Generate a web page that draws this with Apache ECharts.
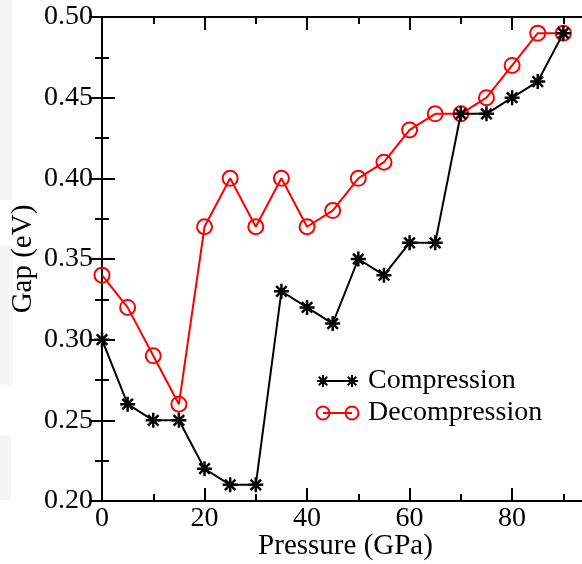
<!DOCTYPE html>
<html>
<head>
<meta charset="utf-8">
<script src="https://cdn.jsdelivr.net/npm/echarts@6/dist/echarts.min.js"></script>
<style>
html,body{margin:0;padding:0;background:#fff;}
#c{width:582px;height:564px;}
</style>
</head>
<body>
<div id="c"></div>
<script>
const pressure = [0,5,10,15,20,25,30,35,40,45,50,55,60,65,70,75,80,85,90];
const compression = [0.30,0.26,0.25,0.25,0.22,0.21,0.21,0.33,0.32,0.31,0.35,0.34,0.36,0.36,0.44,0.44,0.45,0.46,0.49];
const decompression = [0.34,0.32,0.29,0.26,0.37,0.40,0.37,0.40,0.37,0.38,0.40,0.41,0.43,0.44,0.44,0.45,0.47,0.49,0.49];
const seriesNames = ['Compression','Decompression'];

const FONT = '"Liberation Serif", "Times New Roman", serif';
const STAR = 'path://M5,0L5,10M0,5L10,5M1.5,1.5L8.5,8.5M1.5,8.5L8.5,1.5';

function starLines(cx, cy, r) {
  const d = r * 0.7;
  const segs = [[0,-r,0,r],[-r,0,r,0],[-d,-d,d,d],[-d,d,d,-d]];
  return segs.map(s => ({type:'line', shape:{x1:cx+s[0], y1:cy+s[1], x2:cx+s[2], y2:cy+s[3]},
    style:{stroke:'#000', lineWidth:2}}));
}

const chart = echarts.init(document.getElementById('c'), null, {renderer:'canvas'});

const tickCommon = {
  axisLine:{show:true, lineStyle:{color:'#000', width:2}},
  axisTick:{show:true, inside:true, length:13, lineStyle:{color:'#000', width:2}},
  minorTick:{show:true, splitNumber:2, length:7, lineStyle:{color:'#000', width:2}},
  splitLine:{show:false},
  minorSplitLine:{show:false}
};

chart.setOption({
  animation:false,
  backgroundColor:'#fff',
  grid:{left:102, right:-7, top:17, bottom:63, containLabel:false, outerBoundsMode:'none'},
  xAxis:[
    Object.assign({
      type:'value', min:0, max:95, interval:20, position:'bottom',
      name:'Pressure (GPa)', nameLocation:'middle', nameGap:31, nameMoveOverlap:false,
      nameTextStyle:{fontFamily:FONT, fontSize:29, color:'#000'},
      axisLabel:{fontFamily:FONT, fontSize:28, color:'#000', margin:4, showMaxLabel:false}
    }, tickCommon),
    Object.assign({
      type:'value', min:0, max:95, interval:20, position:'top',
      axisLabel:{show:false}
    }, tickCommon)
  ],
  yAxis:[
    Object.assign({
      type:'value', min:0.20, max:0.50, interval:0.05, position:'left',
      name:'Gap (eV)', nameLocation:'middle', nameGap:64, nameMoveOverlap:false,
      nameTextStyle:{fontFamily:FONT, fontSize:29, color:'#000'},
      axisLabel:{fontFamily:FONT, fontSize:28, color:'#000', margin:9,
        formatter:v=>v.toFixed(2)}
    }, tickCommon),
    Object.assign({
      type:'value', min:0.20, max:0.50, interval:0.05, position:'right',
      axisLabel:{show:false}
    }, tickCommon)
  ],
  graphic:[
    {type:'rect', z:-10, shape:{x:0,y:0,width:12,height:200}, style:{fill:'#f5f5f5'}},
    {type:'rect', z:-10, shape:{x:0,y:245,width:13,height:140}, style:{fill:'#f5f5f5'}},
    {type:'rect', z:-10, shape:{x:0,y:435,width:11,height:65}, style:{fill:'#f5f5f5'}},
    {type:'line', shape:{x1:323,y1:381,x2:352,y2:381}, style:{stroke:'#000', lineWidth:2}},
    ...starLines(323, 381, 6),
    ...starLines(352, 381, 6),
    {type:'text', x:368, y:381, style:{text:seriesNames[0], font:'28px '+FONT, fill:'#000', verticalAlign:'middle'}},
    {type:'line', shape:{x1:323,y1:413,x2:352,y2:413}, style:{stroke:'#ff0000', lineWidth:2}},
    {type:'circle', shape:{cx:323, cy:413, r:6.5}, style:{stroke:'#ff0000', lineWidth:2, fill:null}},
    {type:'circle', shape:{cx:352, cy:413, r:6.5}, style:{stroke:'#ff0000', lineWidth:2, fill:null}},
    {type:'text', x:368, y:413, style:{text:seriesNames[1], font:'28px '+FONT, fill:'#000', verticalAlign:'middle'}}
  ],
  series:[
    {
      name:seriesNames[1], type:'line', xAxisIndex:0, yAxisIndex:0,
      data:pressure.map((p,i)=>[p, decompression[i]]),
      symbol:'circle', symbolSize:15,
      lineStyle:{color:'#ff0000', width:2},
      itemStyle:{color:'transparent', borderColor:'#ff0000', borderWidth:2},
      z:2
    },
    {
      name:seriesNames[0], type:'line', xAxisIndex:0, yAxisIndex:0,
      data:pressure.map((p,i)=>[p, compression[i]]),
      symbol:STAR, symbolSize:15,
      lineStyle:{color:'#000', width:2},
      itemStyle:{color:'#000', borderColor:'#000', borderWidth:2.5},
      z:3
    }
  ]
});
</script>
</body>
</html>
